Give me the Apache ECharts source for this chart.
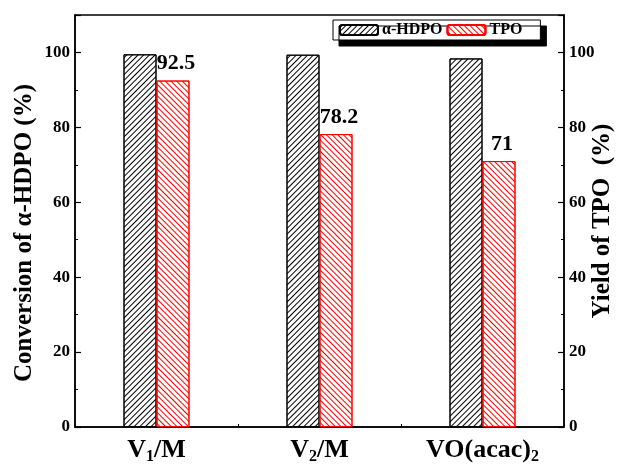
<!DOCTYPE html>
<html>
<head>
<meta charset="utf-8">
<script src="https://cdn.jsdelivr.net/npm/echarts@6/dist/echarts.min.js"></script>
<style>
  html, body { margin: 0; padding: 0; background: #fff; }
  #chart { width: 623px; height: 465px; }
</style>
</head>
<body>
<div id="chart"></div>
<script>
// Catalysts on the category axis (digits are drawn as subscripts)
const categories = ['V1/M', 'V2/M', 'VO(acac)2'];
// Conversion of α-HDPO (%) — left axis
const conversion = [99.5, 99.4, 98.4];
// Yield of TPO (%) — right axis
const yieldTPO = [92.5, 78.2, 71];
// Tick values shared by both value axes
const yTicks = [0, 20, 40, 60, 80, 100];

const FONT = '"Liberation Serif", "Times New Roman", serif';

function subscriptLabel(text) {
  return text.replace(/(\d)/g, '{s|$1}');
}

const valueAxisBase = {
  type: 'value',
  min: 0,
  max: 110,
  interval: yTicks[1] - yTicks[0],
  nameLocation: 'middle',
  nameRotate: 90,
  nameMoveOverlap: false,
  axisLine: { show: true, lineStyle: { color: '#000', width: 1.5 } },
  axisTick: { show: true, inside: true, length: 6, lineStyle: { color: '#000', width: 1.2 } },
  minorTick: { show: true, splitNumber: 2, length: 3, lineStyle: { color: '#000', width: 1 } },
  splitLine: { show: false },
  axisLabel: {
    fontFamily: FONT, fontWeight: 'bold', fontSize: 17, color: '#000', margin: 5,
    showMaxLabel: false,
    formatter: v => (yTicks.indexOf(v) >= 0 ? String(v) : '')
  }
};

const nameStyle = { fontFamily: FONT, fontWeight: 'bold', fontSize: 25, color: '#000' };

const chart = echarts.init(document.getElementById('chart'), null, { renderer: 'canvas' });

chart.setOption({
  animation: false,
  backgroundColor: '#fff',
  grid: {
    left: 75, right: 59, top: 15, bottom: 38,
    containLabel: false, outerBoundsMode: 'none',
    show: true, borderColor: '#000', borderWidth: 1.5, backgroundColor: 'transparent'
  },
  legend: {
    left: 333, top: 20,
    itemWidth: 38, itemHeight: 10, itemGap: 4,
    padding: [2, 18, 2, 6],
    backgroundColor: '#fff', borderColor: '#000', borderWidth: 1,
    shadowColor: '#000', shadowBlur: 0, shadowOffsetX: 6, shadowOffsetY: 6,
    textStyle: { fontFamily: FONT, fontWeight: 'bold', fontSize: 16, color: '#000', padding: [0, 0, 0, -1] },
    data: ['α-HDPO', 'TPO']
  },
  xAxis: {
    type: 'category',
    data: categories,
    axisLine: { lineStyle: { color: '#000', width: 1.5 } },
    axisTick: { show: true, inside: true, length: 3, lineStyle: { color: '#000' } },
    axisLabel: {
      interval: 0,
      fontFamily: FONT, fontWeight: 'bold', fontSize: 26, color: '#000', margin: 8,
      formatter: subscriptLabel,
      rich: {
        s: { fontFamily: FONT, fontWeight: 'bold', fontSize: 16, color: '#000', padding: [14, 0, 0, 0] }
      }
    }
  },
  yAxis: [
    Object.assign({}, valueAxisBase, {
      position: 'left', name: 'Conversion of α-HDPO (%)', nameGap: 38,
      nameTextStyle: Object.assign({}, nameStyle, { padding: [0, 24, 0, 0] })
    }),
    Object.assign({}, valueAxisBase, {
      position: 'right', name: 'Yield of TPO  (%)', nameGap: 26,
      nameTextStyle: nameStyle
    })
  ],
  series: [
    {
      name: 'α-HDPO',
      type: 'bar',
      yAxisIndex: 0,
      data: conversion,
      barWidth: 33,
      barGap: '0%',
      itemStyle: {
        color: '#fff', borderColor: '#000', borderWidth: 1,
        decal: { symbol: 'rect', color: '#000', dashArrayX: [1, 0], dashArrayY: [1, 3], rotation: -Math.PI / 4, symbolSize: 1 }
      }
    },
    {
      name: 'TPO',
      type: 'bar',
      yAxisIndex: 1,
      data: yieldTPO,
      barWidth: 33,
      barGap: '0%',
      itemStyle: {
        color: '#fff', borderColor: '#ff0000', borderWidth: 1,
        decal: { symbol: 'rect', color: '#ff0000', dashArrayX: [1, 0], dashArrayY: [1, 3], rotation: Math.PI / 4, symbolSize: 1 }
      },
      label: {
        show: true, position: 'top', distance: 6, offset: [3, 0],
        fontFamily: FONT, fontWeight: 'bold', fontSize: 22, color: '#000',
        formatter: p => String(p.value)
      }
    }
  ]
});
</script>
</body>
</html>
